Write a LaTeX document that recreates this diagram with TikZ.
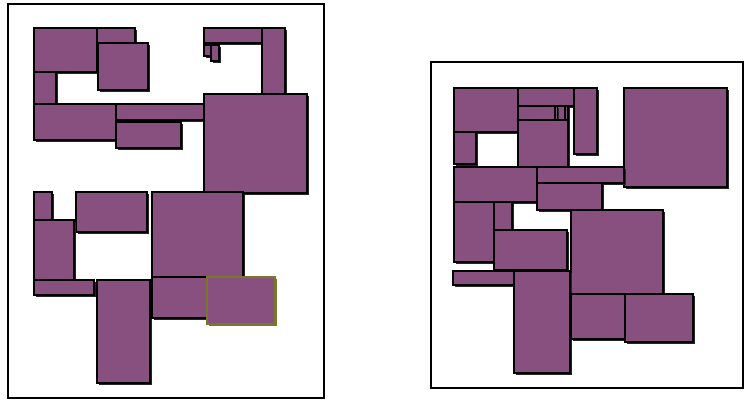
\documentclass[tikz,border=0pt]{standalone}
\definecolor{roomfill}{RGB}{135,80,127}
\definecolor{selborder}{RGB}{120,120,40}
\tikzset{
  frame/.style={draw=black,line width=1.1pt},
  room/.style={fill=roomfill,draw=black,line width=1.1pt},
  selroom/.style={fill=roomfill,draw=selborder,line width=1.1pt},
  roomshadow/.style={fill=black!85},
}
\newcommand{\roomrect}[4]{%
  \fill[roomshadow] (#1+1.8,#2+1.8) rectangle (#3+1.8,#4+1.8);
  \draw[room] (#1,#2) rectangle (#3,#4);}
\begin{document}
\begin{tikzpicture}[x=1pt,y=-1pt]
\useasboundingbox (0,0) rectangle (744,400);
\fill[white] (0,0) rectangle (744,400);
% left frame
\draw[frame] (8,4) rectangle (324,398);
% left plan
\roomrect{34}{28}{97}{72}
\roomrect{97}{28}{135}{43}
\roomrect{98}{43}{148}{90}
\roomrect{34}{72}{56}{104}
\roomrect{34}{104}{116}{140}
\roomrect{116}{104}{204}{120}
\roomrect{116}{122}{181}{148}
\roomrect{204}{28}{262}{43}
\roomrect{204}{45}{211}{56}
\roomrect{211}{45}{219}{61}
\roomrect{262}{28}{285}{94}
\roomrect{204}{94}{307}{193}
\roomrect{34}{192}{52}{220}
\roomrect{76}{192}{147}{232}
\roomrect{152}{192}{243}{277}
\roomrect{34}{220}{74}{280}
\roomrect{34}{280}{94}{295}
\roomrect{97}{280}{150}{383}
\roomrect{152}{277}{207}{318}
\fill[selborder] (208.5,278.5) rectangle (276.5,325.5);
\draw[selroom] (207,277) rectangle (275,324);
% right frame
\draw[frame] (431,62) rectangle (743,388);
% right plan
\roomrect{454}{88}{518}{132}
\roomrect{518}{88}{574}{106}
\roomrect{518}{106}{568}{120}
\roomrect{555}{106}{557.5}{120}
\roomrect{565}{106}{568}{120}
\roomrect{518}{120}{568}{167}
\roomrect{574}{88}{597}{154}
\roomrect{454}{132}{476}{164}
\roomrect{624}{88}{727}{187}
\roomrect{454}{167}{537}{202}
\roomrect{537}{167}{624}{183}
\roomrect{537}{183}{602}{210}
\roomrect{454}{202}{494}{262}
\roomrect{494}{202}{512}{230}
\roomrect{494}{230}{567}{270}
\roomrect{571}{210}{663}{294}
\roomrect{453}{271}{514}{285}
\roomrect{514}{271}{570}{373}
\roomrect{571}{294}{625}{339}
\roomrect{625}{294}{693}{342}
\end{tikzpicture}
\end{document}
